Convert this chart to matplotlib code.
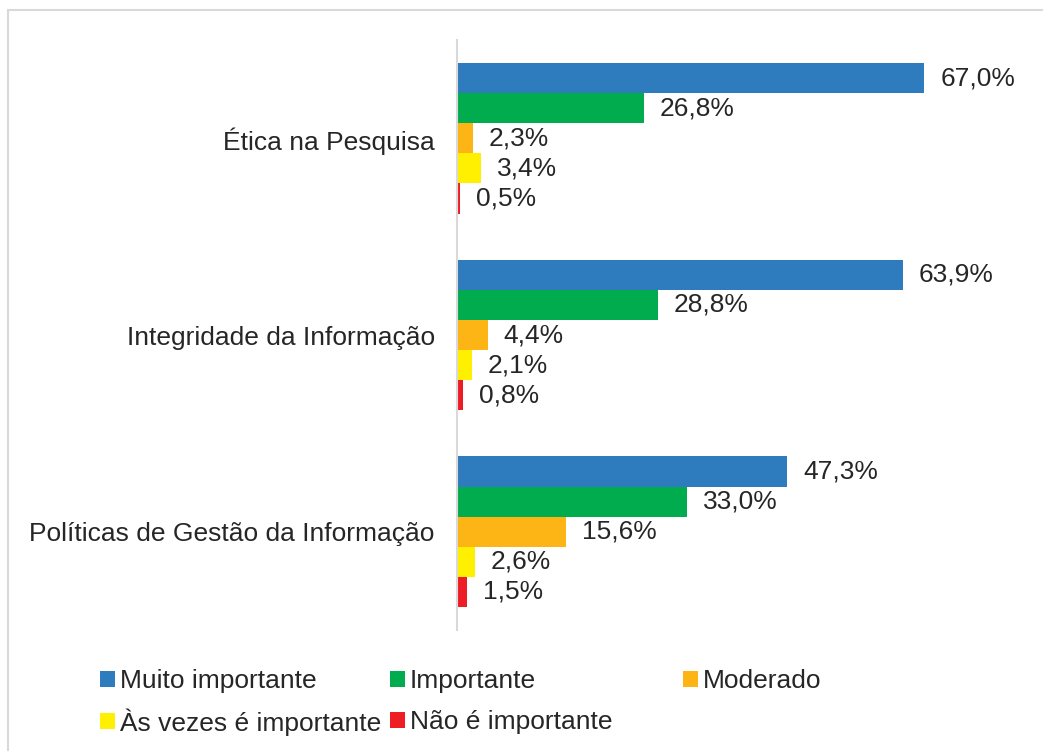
import matplotlib.pyplot as plt
from matplotlib.patches import Rectangle
import numpy as np

# dados
categorias = ['Ética na Pesquisa', 'Integridade da Informação',
              'Políticas de Gestão da Informação']
series = ['Muito importante', 'Importante', 'Moderado',
          'Às vezes é importante', 'Não é importante']
muito_importante = [67.0, 63.9, 47.3]
importante = [26.8, 28.8, 33.0]
moderado = [2.3, 4.4, 15.6]
as_vezes = [3.4, 2.1, 2.6]
nao_importante = [0.5, 0.8, 1.5]
valores = [muito_importante, importante, moderado, as_vezes, nao_importante]
cores = ['#2E7BBE', '#00AC4E', '#FDB515', '#FFEF00', '#EE1D25']

plt.rcParams['font.family'] = ['Liberation Sans', 'DejaVu Sans']
texto = '#262626'

fig = plt.figure(figsize=(10.43, 7.51), dpi=100)
ax = fig.add_axes([457 / 1043, 1 - 630 / 751, 558 / 1043, 590 / 751])

y = np.arange(len(categorias))
altura = 0.153
for i, (nome, vals, cor) in enumerate(zip(series, valores, cores)):
    pos = y - 2 * altura + i * altura
    bars = ax.barh(pos, vals, height=altura, color=cor, label=nome)
    for b, v in zip(bars, vals):
        ax.annotate(f'{v:.1f}%'.replace('.', ','),
                    (b.get_width(), b.get_y() + b.get_height() / 2),
                    xytext=(11.5, 0), textcoords='offset points',
                    ha='left', va='center', fontsize=19, color=texto)

ax.set_xlim(0, 80)
ax.set_ylim(2.5, -0.5)
ax.set_yticks(y)
ax.set_yticklabels(categorias, fontsize=19, color=texto)
ax.tick_params(axis='y', length=0, pad=16)
ax.set_xticks([])
for s in ['top', 'right', 'bottom']:
    ax.spines[s].set_visible(False)
ax.spines['left'].set_color('#D9D9D9')
ax.spines['left'].set_linewidth(1.5)

# legenda: três colunas fixas, duas linhas (uma legenda por item)
handles, labels = ax.get_legend_handles_labels()
xs = [100 / 1043, 390 / 1043, 683 / 1043]
ys = [1 - 681 / 751, 1 - 722 / 751]
for i, (h, l) in enumerate(zip(handles, labels)):
    leg = fig.legend([h], [l], loc='center left',
                     bbox_to_anchor=(xs[i % 3], ys[i // 3]), frameon=False,
                     fontsize=19, handlelength=0.55, handleheight=0.55,
                     handletextpad=0.2, borderpad=0, borderaxespad=0)
    leg.get_texts()[0].set_color(texto)

# moldura cinza
fig.patches.append(Rectangle((8 / 1043, -0.1), 1.2, 1.1 - 10 / 751,
                             transform=fig.transFigure, fill=False,
                             edgecolor='#D9D9D9', linewidth=1.5))

fig.savefig('out.png', dpi=100)
